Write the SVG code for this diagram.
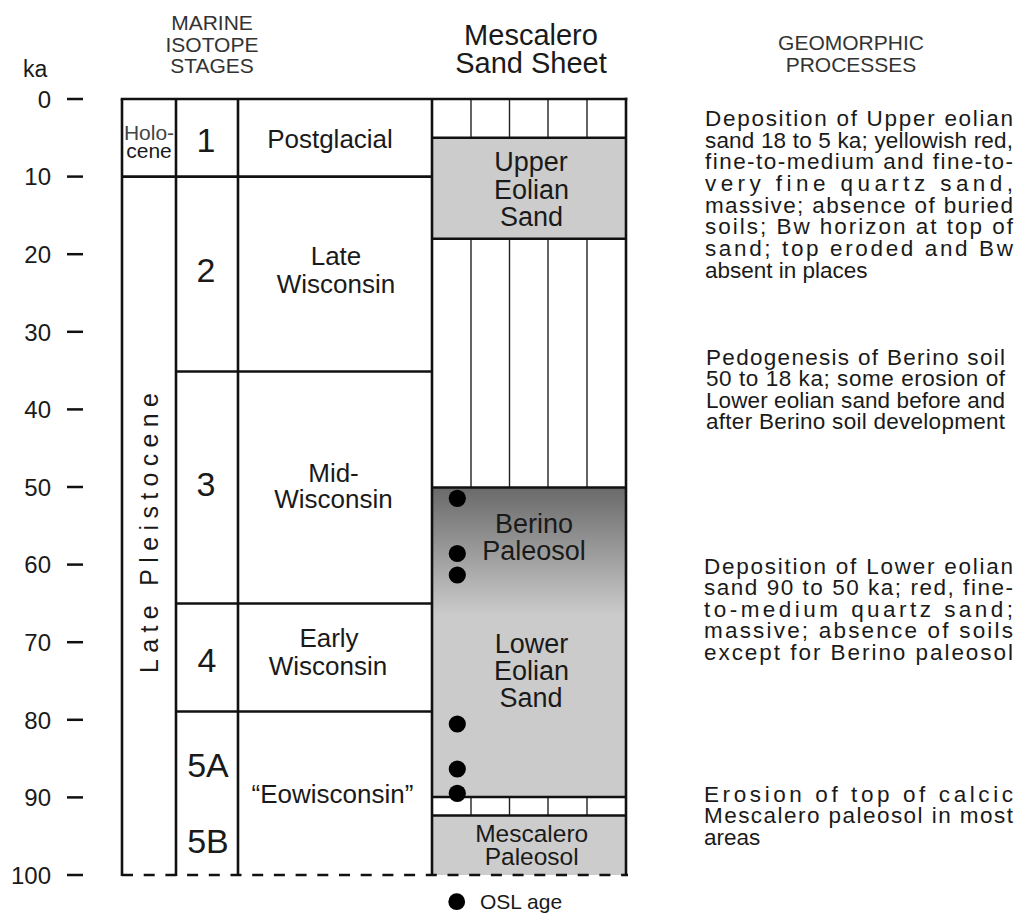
<svg xmlns="http://www.w3.org/2000/svg" width="1018" height="913" viewBox="0 0 1018 913">
<defs>
<style>
text{font-family:"Liberation Sans",Arial,Helvetica,sans-serif;fill:#1a1a1a}
.hdr{font-size:21px;fill:#333;text-anchor:middle}
.ax{font-size:24px;text-anchor:end}
.tick{stroke:#111;stroke-width:2.5}
.frame{stroke:#111;stroke-width:2.6;fill:none}
.dash{stroke:#111;stroke-width:2.6;stroke-dasharray:11 10.7;fill:none}
.hatch{stroke:#222;stroke-width:1.4}
.lbl{font-size:26px;text-anchor:middle}
.stg{font-size:34px;text-anchor:middle}
.unit{font-size:27px;text-anchor:middle}
.proc{font-size:22.5px}
.osl{fill:#000}
</style>
<linearGradient id="berino" gradientUnits="userSpaceOnUse" x1="0" y1="488" x2="0" y2="615">
<stop offset="0" stop-color="#6a6a6a"/>
<stop offset="1" stop-color="#cbcbcb"/>
</linearGradient>
</defs>
<rect x="0" y="0" width="1018" height="913" fill="#fff"/>

<g id="headers">
<text class="hdr" x="212" y="30">MARINE</text>
<text class="hdr" x="212" y="52">ISOTOPE</text>
<text class="hdr" x="212" y="73">STAGES</text>
<text x="531" y="45" font-size="29" text-anchor="middle">Mescalero</text>
<text x="531" y="73" font-size="29" text-anchor="middle">Sand Sheet</text>
<text class="hdr" x="851" y="50">GEOMORPHIC</text>
<text class="hdr" x="851" y="71.7">PROCESSES</text>
</g>

<g id="axis">
<text x="23" y="77" font-size="23">ka</text>
<g class="tick">
<line x1="67" y1="99" x2="83" y2="99"/>
<line x1="67" y1="176.6" x2="83" y2="176.6"/>
<line x1="67" y1="254.2" x2="83" y2="254.2"/>
<line x1="67" y1="331.8" x2="83" y2="331.8"/>
<line x1="67" y1="409.4" x2="83" y2="409.4"/>
<line x1="67" y1="487" x2="83" y2="487"/>
<line x1="67" y1="564.6" x2="83" y2="564.6"/>
<line x1="67" y1="642.2" x2="83" y2="642.2"/>
<line x1="67" y1="719.8" x2="83" y2="719.8"/>
<line x1="67" y1="797.4" x2="83" y2="797.4"/>
<line x1="67" y1="875" x2="83" y2="875"/>
</g>
<text class="ax" x="51" y="107.5">0</text>
<text class="ax" x="51" y="185.3">10</text>
<text class="ax" x="51" y="262.9">20</text>
<text class="ax" x="51" y="340.5">30</text>
<text class="ax" x="51" y="418.1">40</text>
<text class="ax" x="51" y="495.7">50</text>
<text class="ax" x="51" y="573.3">60</text>
<text class="ax" x="51" y="650.9">70</text>
<text class="ax" x="51" y="728.5">80</text>
<text class="ax" x="51" y="806.1">90</text>
<text class="ax" x="51" y="883.7">100</text>
</g>

<g id="sand-sheet">
<rect x="432" y="137.8" width="194" height="101" fill="#cccccc"/>
<rect x="432" y="487.5" width="194" height="309.5" fill="url(#berino)"/>
<rect x="432" y="815.5" width="194" height="59.5" fill="#cccccc"/>
<g class="hatch">
<line x1="471" y1="99" x2="471" y2="137.8"/>
<line x1="509.5" y1="99" x2="509.5" y2="137.8"/>
<line x1="548" y1="99" x2="548" y2="137.8"/>
<line x1="587" y1="99" x2="587" y2="137.8"/>
<line x1="471" y1="238.8" x2="471" y2="487.5"/>
<line x1="509.5" y1="238.8" x2="509.5" y2="487.5"/>
<line x1="548" y1="238.8" x2="548" y2="487.5"/>
<line x1="587" y1="238.8" x2="587" y2="487.5"/>
<line x1="471" y1="797" x2="471" y2="815.5"/>
<line x1="509.5" y1="797" x2="509.5" y2="815.5"/>
<line x1="548" y1="797" x2="548" y2="815.5"/>
<line x1="587" y1="797" x2="587" y2="815.5"/>
</g>
<g class="frame">
<line x1="432" y1="137.8" x2="626" y2="137.8"/>
<line x1="432" y1="238.8" x2="626" y2="238.8"/>
<line x1="432" y1="487.5" x2="626" y2="487.5"/>
<line x1="432" y1="797" x2="626" y2="797"/>
<line x1="432" y1="815.5" x2="626" y2="815.5"/>
<line x1="626" y1="97.7" x2="626" y2="876"/>
</g>
<text class="unit" x="531" y="170.7">Upper</text>
<text class="unit" x="531.5" y="199">Eolian</text>
<text class="unit" x="531.5" y="226">Sand</text>
<text class="unit" x="534" y="533">Berino</text>
<text class="unit" x="534" y="560">Paleosol</text>
<text class="unit" x="531.5" y="653">Lower</text>
<text class="unit" x="531.5" y="680">Eolian</text>
<text class="unit" x="531" y="707">Sand</text>
<text x="531.7" y="841.7" font-size="24.5" text-anchor="middle">Mescalero</text>
<text x="531.7" y="865" font-size="24.5" text-anchor="middle">Paleosol</text>
</g>

<g id="time-table">
<g class="frame">
<line x1="120.7" y1="99" x2="627.3" y2="99"/>
<line x1="122" y1="99" x2="122" y2="876"/>
<line x1="176" y1="99" x2="176" y2="876"/>
<line x1="238" y1="99" x2="238" y2="876"/>
<line x1="432" y1="99" x2="432" y2="876"/>
<line x1="122" y1="176.6" x2="432" y2="176.6"/>
<line x1="176" y1="371.5" x2="432" y2="371.5"/>
<line x1="176" y1="603.5" x2="432" y2="603.5"/>
<line x1="176" y1="711.5" x2="432" y2="711.5"/>
</g>
<line class="dash" x1="122" y1="875" x2="628" y2="875"/>
<text x="149" y="140" font-size="21" text-anchor="middle" fill="#444" style="fill:#444">Holo-</text>
<text x="149" y="158" font-size="21" text-anchor="middle">cene</text>
<text transform="translate(158,533) rotate(-90)" font-size="25" text-anchor="middle" textLength="280" lengthAdjust="spacing">Late Pleistocene</text>
<text class="stg" x="206" y="151.5">1</text>
<text class="stg" x="206" y="281.5">2</text>
<text class="stg" x="206" y="496">3</text>
<text class="stg" x="207" y="671.5">4</text>
<text class="stg" x="208" y="776.5">5A</text>
<text class="stg" x="208" y="853">5B</text>
<text class="lbl" x="330" y="148">Postglacial</text>
<text class="lbl" x="336" y="265">Late</text>
<text class="lbl" x="336" y="292.7">Wisconsin</text>
<text class="lbl" x="333.5" y="481.7">Mid-</text>
<text class="lbl" x="333.5" y="508.3">Wisconsin</text>
<text class="lbl" x="329" y="646.7">Early</text>
<text class="lbl" x="328" y="675">Wisconsin</text>
<text class="lbl" x="332.5" y="803">“Eowisconsin”</text>
</g>

<g id="osl-ages">
<circle class="osl" cx="457.3" cy="498.3" r="8.6"/>
<circle class="osl" cx="457.3" cy="553.5" r="8.6"/>
<circle class="osl" cx="457.3" cy="575" r="8.6"/>
<circle class="osl" cx="457.3" cy="724" r="8.6"/>
<circle class="osl" cx="457.3" cy="769" r="8.6"/>
<circle class="osl" cx="457.3" cy="793.3" r="8.6"/>
</g>

<g id="processes">
<text class="proc" x="705" y="126" textLength="308" lengthAdjust="spacing">Deposition of Upper eolian</text>
<text class="proc" x="705" y="147.7" textLength="308" lengthAdjust="spacing">sand 18 to 5 ka; yellowish red,</text>
<text class="proc" x="705" y="169.3" textLength="308" lengthAdjust="spacing">fine-to-medium and fine-to-</text>
<text class="proc" x="705" y="191" textLength="308" lengthAdjust="spacing">very fine quartz sand,</text>
<text class="proc" x="705" y="212.7" textLength="308" lengthAdjust="spacing">massive; absence of buried</text>
<text class="proc" x="705" y="234.3" textLength="308" lengthAdjust="spacing">soils; Bw horizon at top of</text>
<text class="proc" x="705" y="256" textLength="308" lengthAdjust="spacing">sand; top eroded and Bw</text>
<text class="proc" x="705" y="277.7">absent in places</text>

<text class="proc" x="706" y="364.5" textLength="299" lengthAdjust="spacing">Pedogenesis of Berino soil</text>
<text class="proc" x="706" y="386" textLength="299" lengthAdjust="spacing">50 to 18 ka; some erosion of</text>
<text class="proc" x="706" y="407.7" textLength="299" lengthAdjust="spacing">Lower eolian sand before and</text>
<text class="proc" x="706" y="429.3" textLength="299" lengthAdjust="spacing">after Berino soil development</text>

<text class="proc" x="704" y="573.5" textLength="309" lengthAdjust="spacing">Deposition of Lower eolian</text>
<text class="proc" x="704" y="595" textLength="309" lengthAdjust="spacing">sand 90 to 50 ka; red, fine-</text>
<text class="proc" x="704" y="616.7" textLength="309" lengthAdjust="spacing">to-medium quartz sand;</text>
<text class="proc" x="704" y="638.3" textLength="309" lengthAdjust="spacing">massive; absence of soils</text>
<text class="proc" x="704" y="660" textLength="309" lengthAdjust="spacing">except for Berino paleosol</text>

<text class="proc" x="704" y="801.7" textLength="309" lengthAdjust="spacing">Erosion of top of calcic</text>
<text class="proc" x="704" y="823.3" textLength="309" lengthAdjust="spacing">Mescalero paleosol in most</text>
<text class="proc" x="704" y="845">areas</text>
</g>

<g id="legend">
<circle class="osl" cx="456.7" cy="901.7" r="8.4"/>
<text x="480" y="908.5" font-size="21">OSL age</text>
</g>
</svg>
